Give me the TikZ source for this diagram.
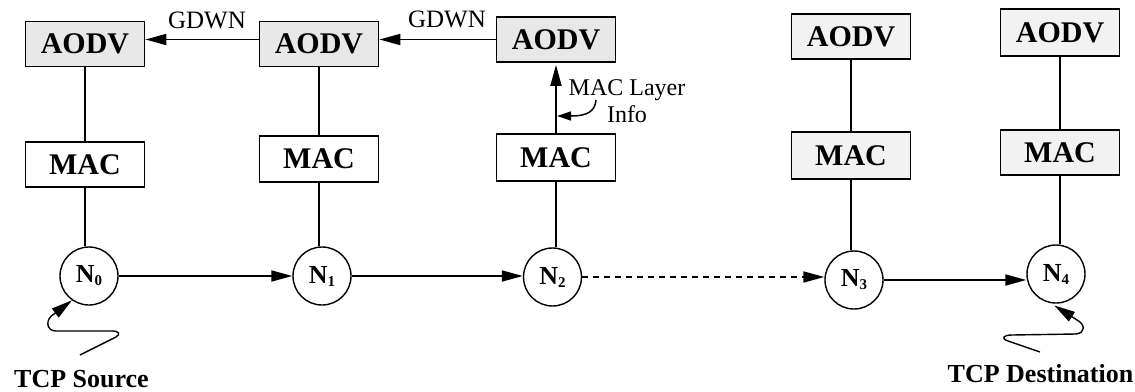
\documentclass[tikz,border=0pt]{standalone}
\usepackage{fontspec}
\setmainfont{Liberation Serif}
\usetikzlibrary{arrows.meta}
\newcommand\hostsub[1]{\raisebox{-3pt}{\fontsize{15}{15}\selectfont #1}}
\begin{document}
\begin{tikzpicture}[x=1pt,y=-1pt,
  layerbox/.style={draw,line width=1.8pt,minimum width=119pt,minimum height=45pt,
    inner sep=0pt,font=\fontsize{30}{30}\selectfont\bfseries},
  routing/.style={layerbox,fill=black!9},
  routingfar/.style={layerbox,fill=black!5},
  hostnode/.style={draw,circle,line width=1.4pt,minimum size=58pt,inner sep=0pt,
    font=\fontsize{26}{26}\selectfont\bfseries},
  link/.style={line width=1.8pt},
  arr/.style={link,-{Triangle[length=21pt,width=11pt]}},
  smallarr/.style={line width=1.5pt,-{Triangle[length=14pt,width=9pt]}},
  lbl/.style={font=\fontsize{25}{25}\selectfont,inner sep=0pt},
  tag/.style={font=\fontsize{26}{26}\selectfont\bfseries,inner sep=0pt,anchor=base}
]
\useasboundingbox (0,0) rectangle (1135,391);

% routing layer
\node[routing] (A1) at (85,44) {AODV};
\node[routing] (A2) at (319,44) {AODV};
\node[routing] (A3) at (556,39.5) {AODV};
\node[routingfar] (A4) at (851,36.5) {AODV};
\node[routingfar,minimum height=47pt] (A5) at (1060,32.5) {AODV};

% MAC layer
\node[layerbox] (M1) at (85,164.5) {MAC};
\node[layerbox,minimum height=46pt] (M2) at (319,159) {MAC};
\node[layerbox,minimum height=47pt] (M3) at (556,157.5) {MAC};
\node[routingfar,minimum height=47pt] (M4) at (851,155.5) {MAC};
\node[routingfar] (M5) at (1060,152.5) {MAC};

% hosts
\node[hostnode] (N0) at (89,276) {N\hostsub{0}};
\node[hostnode] (N1) at (322,276) {N\hostsub{1}};
\node[hostnode] (N2) at (552.5,277) {N\hostsub{2}};
\node[hostnode] (N3) at (854,280) {N\hostsub{3}};
\node[hostnode] (N4) at (1056,274) {N\hostsub{4}};

% stack connections
\draw[link] (A1.south) -- (A1.south |- M1.north);
\draw[link] (M1.south) -- (M1.south |- N0.north);
\draw[link] (A2.south) -- (A2.south |- M2.north);
\draw[link] (M2.south) -- (M2.south |- N1.north);
\draw[link] (M3.south) -- (M3.south |- N2.north);
\draw[link] (A4.south) -- (A4.south |- M4.north);
\draw[link] (M4.south) -- (M4.south |- N3.north);
\draw[link] (A5.south) -- (A5.south |- M5.north);
\draw[link] (M5.south) -- (M5.south |- N4.north);

% cross-layer notification
\draw[arr,shorten >=2pt] (M3.north) -- (M3.north |- A3.south);
\node[lbl,font=\fontsize{24}{27}\selectfont,align=center,anchor=north] (info) at (627,79) {MAC Layer\\Info};
\coordinate (infotip) at (557,116);
\draw[smallarr] (596,100) .. controls (595,111) and (588,116) .. (infotip);

% GDWN messages
\draw[arr] (A3.west) -- (A2.east |- A3.west);
\draw[arr] (A2.west |- A3.west) -- (A1.east |- A3.west);
\node[lbl,anchor=base] (g1) at (207,28) {GDWN};
\node[lbl,anchor=base] (g2) at (447,27) {GDWN};

% data path
\draw[arr] (N0.east) -- (N1.west |- N0.east);
\draw[arr] (N1.east) -- (N2.west |- N1.east);
\draw[arr,dash pattern=on 6pt off 5pt] (N2.east) -- (N3.west |- N2.east);
\draw[arr] (N3.east) -- (N4.west |- N3.east);

% endpoints
\node[tag] (src) at (81.5,387) {TCP Source};
\node[tag] (dst) at (1040.5,382) {TCP Destination};
\draw[arr,line width=1.4pt] (80,355) -- (116,337) .. controls (121,334) and (119,331) .. (112,331)
  -- (56,331) .. controls (46,331) and (45,319) .. (54,314) -- (N0.-125);
\draw[arr,line width=1.4pt,shorten >=4pt] (1040,352) -- (1008,341) .. controls (1000,338) and (1004,335) .. (1012,335)
  -- (1076,334) .. controls (1086,333) and (1085,324) .. (1077,320) -- (N4.-100);
\end{tikzpicture}
\end{document}
